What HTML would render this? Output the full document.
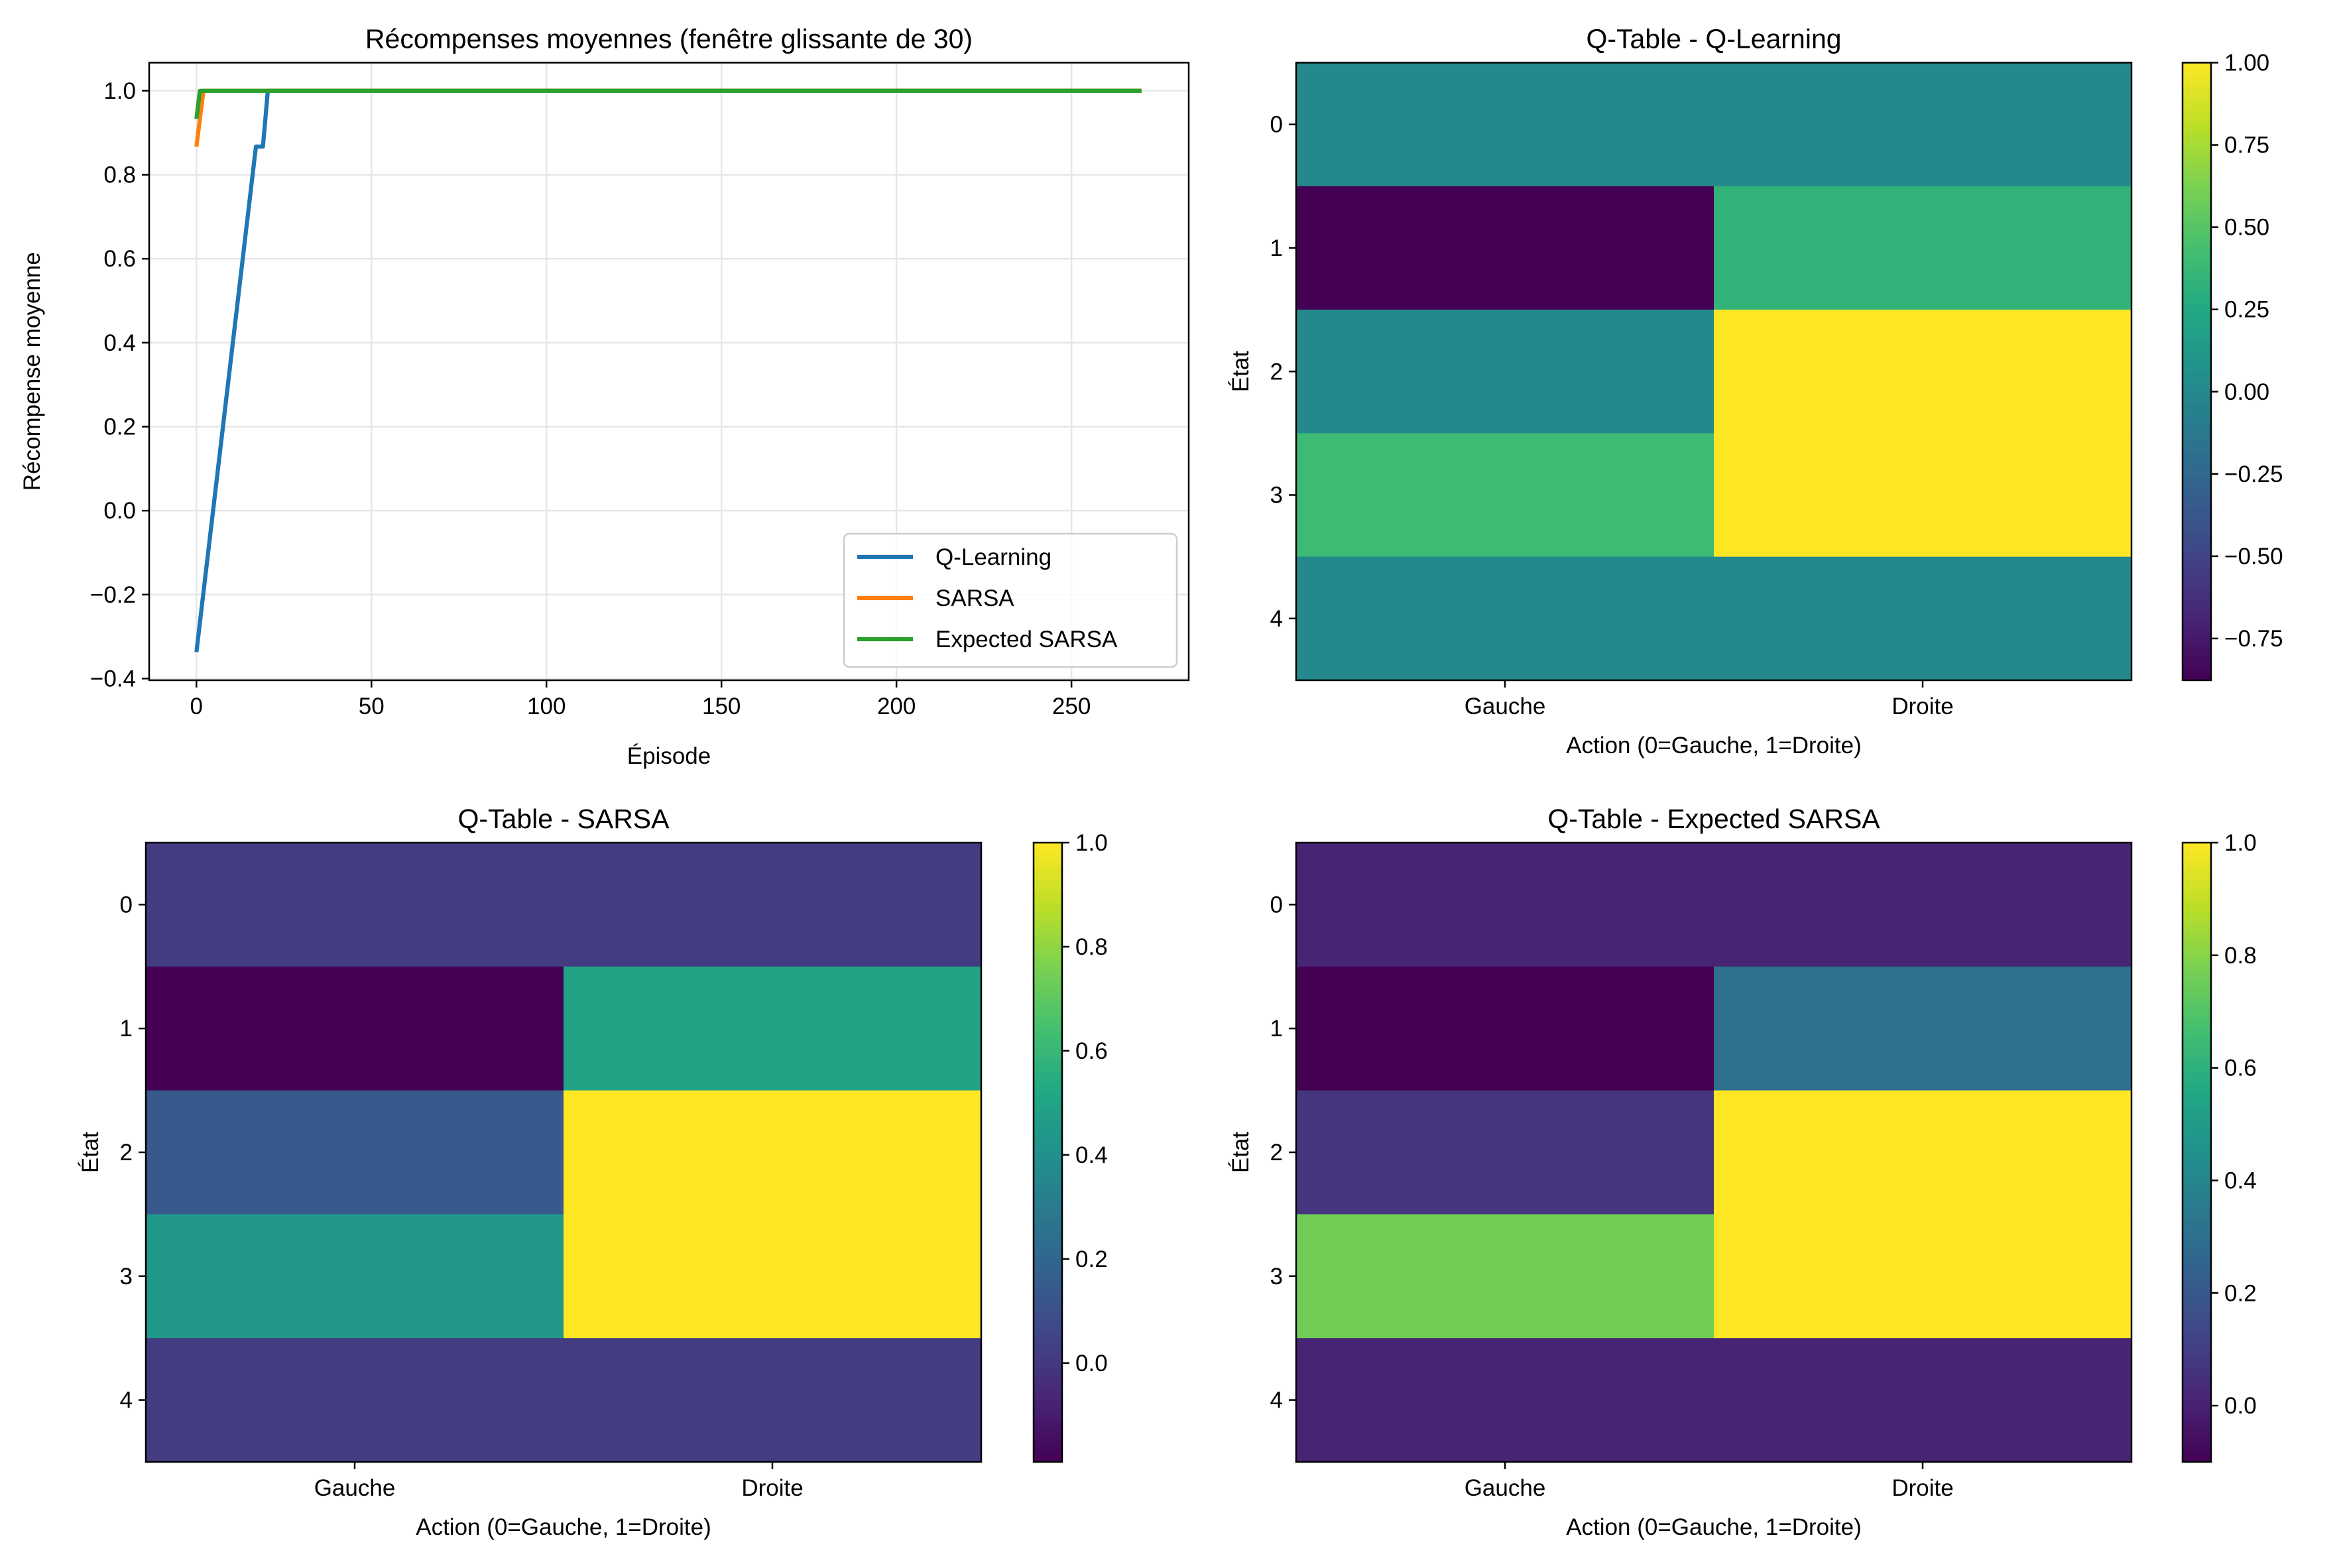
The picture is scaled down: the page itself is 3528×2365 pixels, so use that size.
<!DOCTYPE html>
<html><head><meta charset="utf-8"><style>
html,body{margin:0;padding:0;background:#fff}
svg{display:block}
text{font-family:"Liberation Sans","DejaVu Sans",sans-serif;fill:#000}
</style></head><body>
<svg id="fig" width="3528" height="2365" viewBox="0 0 3528 2365" xmlns="http://www.w3.org/2000/svg"></svg>
<script>
// ---- line chart data ----
const qlX = [0, 17, 19, 20.4, 270];
const qlY = [-0.337, 0.867, 0.867, 1.0, 1.0];
const saX = [0, 2, 270];
const saY = [0.867, 1.0, 1.0];
const exX = [0, 1, 270];
const exY = [0.933, 1.0, 1.0];
const lineXTicks = [0, 50, 100, 150, 200, 250];
const lineYTicks = [-0.4, -0.2, 0.0, 0.2, 0.4, 0.6, 0.8, 1.0];
// ---- heatmap data (rows = states 0..4, cols = Gauche, Droite) ----
const qlTable = [[0.0, 0.0], [-0.877, 0.34], [0.0, 1.0], [0.40, 1.0], [0.0, 0.0]];
const saTable = [[0.02, 0.02], [-0.19, 0.50], [0.14, 1.0], [0.44, 1.0], [0.02, 0.02]];
const exTable = [[0.01, 0.01], [-0.10, 0.31], [0.065, 1.0], [0.76, 1.0], [0.01, 0.01]];
const actionLabels = ["Gauche", "Droite"];
const stateLabels = ["0", "1", "2", "3", "4"];
const qlCbTicks = [-0.75, -0.5, -0.25, 0.0, 0.25, 0.5, 0.75, 1.0];
const saCbTicks = [0.0, 0.2, 0.4, 0.6, 0.8, 1.0];
const exCbTicks = [0.0, 0.2, 0.4, 0.6, 0.8, 1.0];

const NS = "http://www.w3.org/2000/svg";
const svg = document.getElementById("fig");
function mk(tag, attrs, parent, txt) {
  const e = document.createElementNS(NS, tag);
  for (const k in attrs) e.setAttribute(k, attrs[k]);
  if (txt !== undefined) e.textContent = txt;
  (parent || svg).appendChild(e);
  return e;
}
const VIR = ["#440154","#482475","#414487","#355f8d","#2a788e","#21918c","#22a884","#44bf70","#7ad151","#bddf26","#fde725"];
function hex(h){return [1,3,5].map(i=>parseInt(h.substr(i,2),16));}
function viridis(t){
  t=Math.max(0,Math.min(1,t));
  const p=t*10, i=Math.min(9,Math.floor(p)), f=p-i;
  const a=hex(VIR[i]), b=hex(VIR[i+1]);
  return "rgb("+a.map((v,k)=>Math.round(v+(b[k]-v)*f)).join(",")+")";
}
const FS = 35, TS = 41;

// ---------- line chart ----------
(function(){
  const L=225,R=1793,T=94.5,B=1026;
  const x0=-13.5,x1=283.5,y0=-0.404,y1=1.067;
  const sx=v=>L+(v-x0)/(x1-x0)*(R-L);
  const sy=v=>B-(v-y0)/(y1-y0)*(B-T);
  const g=mk("g",{});
  
  
  lineXTicks.forEach(v=>{
    const l=mk("line",{x1:sx(v),x2:sx(v),y1:T,y2:B,stroke:"#e6e6e6","stroke-width":2.5},g);
    
    
    mk("line",{x1:sx(v),x2:sx(v),y1:B,y2:B+11,stroke:"#000","stroke-width":2.5},g);
    const t=mk("text",{x:sx(v),y:B+51,"font-size":FS,"text-anchor":"middle"},g,String(v));
    
    
  });
  lineYTicks.forEach(v=>{
    const l=mk("line",{x1:L,x2:R,y1:sy(v),y2:sy(v),stroke:"#e6e6e6","stroke-width":2.5},g);
    
    
    mk("line",{x1:L-11,x2:L,y1:sy(v),y2:sy(v),stroke:"#000","stroke-width":2.5},g);
    const t=mk("text",{x:L-20,y:sy(v)+12,"font-size":FS,"text-anchor":"end"},g,(v<0?"\u2212":"")+Math.abs(v).toFixed(1));
    
    
  });
  const series=[[qlX,qlY,"#1f77b4","q-learning-line"],[saX,saY,"#ff7f0e","sarsa-line"],[exX,exY,"#2ca02c","expected-sarsa-line"]];
  series.forEach(s=>{
    const p=mk("polyline",{points:s[0].map((x,i)=>sx(x)+","+sy(s[1][i])).join(" "),fill:"none",stroke:s[2],"stroke-width":6.25,"stroke-linejoin":"round"},g);
    
    
  });
  mk("rect",{x:L,y:T,width:R-L,height:B-T,fill:"none",stroke:"#000","stroke-width":2.5},g);
  const tt=mk("text",{x:(L+R)/2,y:T-22,"font-size":TS,"text-anchor":"middle"},g,"Récompenses moyennes (fenêtre glissante de 30)");
  
  
  const xl=mk("text",{x:(L+R)/2,y:1152,"font-size":FS,"text-anchor":"middle"},g,"Épisode");
  
  
  const yl=mk("text",{x:0,y:0,"font-size":FS,"text-anchor":"middle",transform:"translate(60,"+(T+B)/2+") rotate(-90)"},g,"Récompense moyenne");
  
  
  // legend
  const lg=mk("g",{},g);
  
  
  mk("rect",{x:1273,y:805,width:502,height:201,rx:8,fill:"#fff","fill-opacity":0.8,stroke:"#ccc","stroke-width":2.5},lg);
  [["Q-Learning","#1f77b4",840],["SARSA","#ff7f0e",902],["Expected SARSA","#2ca02c",964]].forEach(e=>{
    const eg=mk("g",{},lg);
    
    
    mk("line",{x1:1293,x2:1377,y1:e[2],y2:e[2],stroke:e[1],"stroke-width":6.25},eg);
    mk("text",{x:1411,y:e[2]+12,"font-size":FS},eg,e[0]);
  });
})();

// ---------- heatmaps ----------
function heatmap(table, ticks, tickFmt, L, R, T, B, cbL, cbR, title, name){
  const flat=table.flat();
  const vmin=Math.min(...flat), vmax=Math.max(...flat);
  const g=mk("g",{});
  
  
  const cw=(R-L)/2, rh=(B-T)/5;
  table.forEach((row,r)=>row.forEach((v,c)=>{
    const cell=mk("rect",{x:L+c*cw,y:T+r*rh,width:cw+0.6,height:rh+0.6,fill:viridis((v-vmin)/(vmax-vmin))},g);
    
    
  }));
  mk("rect",{x:L,y:T,width:R-L,height:B-T,fill:"none",stroke:"#000","stroke-width":2.5},g);
  actionLabels.forEach((a,c)=>{
    const x=L+(c+0.5)*cw;
    mk("line",{x1:x,x2:x,y1:B,y2:B+11,stroke:"#000","stroke-width":2.5},g);
    const t=mk("text",{x:x,y:B+51,"font-size":FS,"text-anchor":"middle"},g,a);
    
    
  });
  stateLabels.forEach((s,r)=>{
    const y=T+(r+0.5)*rh;
    mk("line",{x1:L-11,x2:L,y1:y,y2:y,stroke:"#000","stroke-width":2.5},g);
    const t=mk("text",{x:L-20,y:y+12,"font-size":FS,"text-anchor":"end"},g,s);
    
    
  });
  const xl=mk("text",{x:(L+R)/2,y:B+110,"font-size":FS,"text-anchor":"middle"},g,"Action (0=Gauche, 1=Droite)");
  
  
  const yl=mk("text",{x:0,y:0,"font-size":FS,"text-anchor":"middle",transform:"translate("+(L-72)+","+(T+B)/2+") rotate(-90)"},g,"État");
  
  
  const tt=mk("text",{x:(L+R)/2,y:T-22,"font-size":TS,"text-anchor":"middle"},g,title);
  
  
  // colorbar
  const cb=mk("g",{},g);
  
  
  const N=100, h=(B-T)/N;
  for(let i=0;i<N;i++){
    mk("rect",{x:cbL,y:B-(i+1)*h,width:cbR-cbL,height:h+0.8,fill:viridis((i+0.5)/N)},cb);
  }
  mk("rect",{x:cbL,y:T,width:cbR-cbL,height:B-T,fill:"none",stroke:"#000","stroke-width":2.5},cb);
  const sy=v=>B-(v-vmin)/(vmax-vmin)*(B-T);
  ticks.forEach(v=>{
    const y=sy(v);
    mk("line",{x1:cbR,x2:cbR+11,y1:y,y2:y,stroke:"#000","stroke-width":2.5},cb);
    const t=mk("text",{x:cbR+20,y:y+12,"font-size":FS},cb,(v<0?"\u2212":"")+Math.abs(v).toFixed(tickFmt));
    
    
  });
}
heatmap(qlTable, qlCbTicks, 2, 1955, 3215, 94.5, 1026, 3292, 3335, "Q-Table - Q-Learning", "q-learning-heatmap");
heatmap(saTable, saCbTicks, 1, 220, 1480, 1271, 2205, 1559, 1602, "Q-Table - SARSA", "sarsa-heatmap");
heatmap(exTable, exCbTicks, 1, 1955, 3215, 1271, 2205, 3292, 3335, "Q-Table - Expected SARSA", "expected-sarsa-heatmap");
</script>
</body></html>
